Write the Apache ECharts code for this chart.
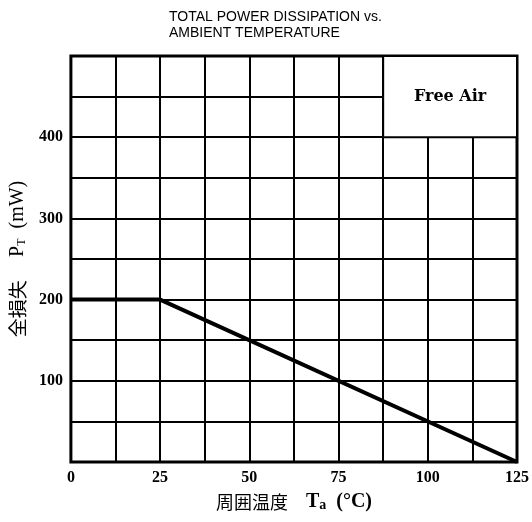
<!DOCTYPE html>
<html><head><meta charset="utf-8">
<script src="https://cdn.jsdelivr.net/npm/echarts@6/dist/echarts.min.js"></script>
<style>html,body{margin:0;padding:0;background:#fff}#c{width:532px;height:522px}</style>
</head><body><div id="c"></div>
<script>
const temps = [0, 25, 125];
const power = [200, 200, 0];
const xTickLabels = [0, 25, 50, 75, 100, 125];
const yTickLabels = [100, 200, 300, 400];
const boxX = [87.5, 125];
const boxY = [400, 500];
const titleLines = ['TOTAL POWER DISSIPATION vs.', 'AMBIENT TEMPERATURE'];

const chart = echarts.init(document.getElementById('c'));
const serif = '"Liberation Serif", "DejaVu Serif", serif';
const cjk = '"Noto Sans CJK JP", sans-serif';
chart.setOption({
  animation: false,
  backgroundColor: '#fff',
  title: {
    text: titleLines.join('\n'), left: 164, top: 4,
    textStyle: { fontFamily: '"Liberation Sans", Arial, sans-serif', fontSize: 14, fontWeight: 'normal', color: '#000', lineHeight: 16 }
  },
  grid: { left: 70, right: 11, top: 56, bottom: 60, show: true, borderColor: '#000', borderWidth: 3, backgroundColor: 'transparent' },
  xAxis: {
    type: 'value', min: 0, max: 125, interval: 12.5,
    axisLine: { show: false }, axisTick: { show: false },
    splitLine: { show: true, lineStyle: { color: '#000', width: 2 } },
    axisLabel: {
      margin: 8, color: '#000', fontFamily: serif, fontWeight: 'bold', fontSize: 16,
      formatter: v => xTickLabels.indexOf(v) >= 0 ? String(v) : ''
    },
    name: '周囲温度　{b|T}{s|a}{b|  (°C)}', nameLocation: 'middle', nameGap: 30,
    nameTextStyle: {
      color: '#000', fontFamily: cjk, fontSize: 18,
      rich: {
        b: { fontFamily: serif, fontWeight: 'bold', fontSize: 20, color: '#000' },
        s: { fontFamily: serif, fontWeight: 'bold', fontSize: 14, color: '#000', verticalAlign: 'bottom', padding: [4, 0, 0, 0] }
      }
    }
  },
  yAxis: {
    type: 'value', min: 0, max: 500, interval: 50,
    axisLine: { show: false }, axisTick: { show: false },
    splitLine: { show: true, lineStyle: { color: '#000', width: 2 } },
    axisLabel: {
      margin: 8, color: '#000', fontFamily: serif, fontWeight: 'bold', fontSize: 16,
      formatter: v => yTickLabels.indexOf(v) >= 0 ? String(v) : ''
    },
    name: '全損失　 {b|P}{s|T}{b|  (mW)}', nameLocation: 'middle', nameGap: 38,
    nameTextStyle: {
      color: '#000', fontFamily: cjk, fontSize: 19,
      rich: {
        b: { fontFamily: serif, fontSize: 20, color: '#000' },
        s: { fontFamily: serif, fontSize: 12, color: '#000', verticalAlign: 'bottom', padding: [4, 0, 0, 0] }
      }
    }
  },
  series: [{
    type: 'line',
    data: temps.map((t, i) => [t, power[i]]),
    symbol: 'none',
    lineStyle: { color: '#000', width: 4 },
    z: 10,
    markArea: {
      silent: true,
      itemStyle: { color: '#fff', borderColor: '#000', borderWidth: 2 },
      label: {
        show: true, position: 'inside', color: '#000',
        fontFamily: '"DejaVu Serif", serif', fontWeight: 'bold', fontSize: 16
      },
      data: [[{ name: 'Free Air', coord: [boxX[0], boxY[0]] }, { coord: [boxX[1], boxY[1]] }]]
    }
  }]
});
</script></body></html>
